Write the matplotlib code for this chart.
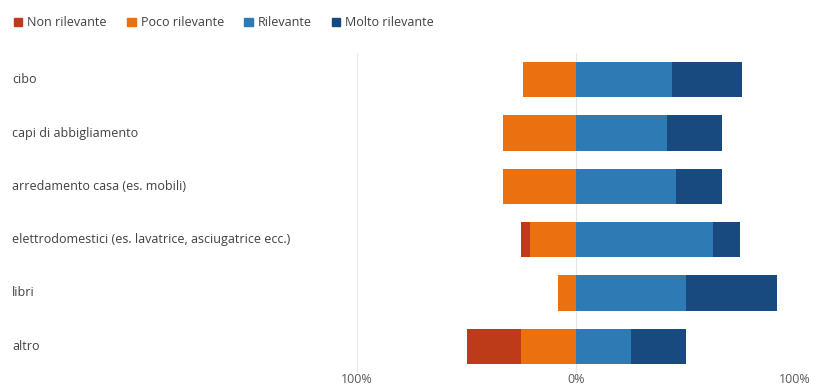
import matplotlib.pyplot as plt
import matplotlib.transforms as mtransforms
from matplotlib.patches import Patch
import numpy as np

plt.rcParams['font.family'] = ['Open Sans', 'DejaVu Sans']

# Survey answers per category, in percent
categories = ['cibo', 'capi di abbigliamento', 'arredamento casa (es. mobili)',
              'elettrodomestici (es. lavatrice, asciugatrice ecc.)', 'libri', 'altro']
non_rilevante = [0, 0, 0, 4.2, 0, 25]
poco_rilevante = [24, 33.3, 33.3, 20.8, 8.3, 25]
rilevante = [44, 41.7, 45.8, 62.5, 50, 25]
molto_rilevante = [32, 25, 20.8, 12.5, 41.7, 25]

series_names = ['Non rilevante', 'Poco rilevante', 'Rilevante', 'Molto rilevante']
colors = ['#BE3B1A', '#EB7110', '#2E7AB4', '#184A80']
xticks = [-100, 0, 100]
xtick_labels = ['100%', '0%', '100%']

fig = plt.figure(figsize=(8.14, 3.88), dpi=100)
ax = fig.add_axes([357 / 814, 1 - 373 / 388, 438 / 814, 320 / 388])

y = np.arange(len(categories))
h = 0.66
nr = np.array(non_rilevante)
pr = np.array(poco_rilevante)
ri = np.array(rilevante)
mr = np.array(molto_rilevante)

# negative side: "poco" next to zero, "non" further out
ax.barh(y, -pr, height=h, color=colors[1], zorder=3)
ax.barh(y, -nr, left=-pr, height=h, color=colors[0], zorder=3)
# positive side
ax.barh(y, ri, height=h, color=colors[2], zorder=3)
ax.barh(y, mr, left=ri, height=h, color=colors[3], zorder=3)

ax.set_xlim(-100, 100)
ax.set_ylim(len(categories) - 0.5, -0.5)
ax.set_xticks(xticks)
ax.set_xticklabels(xtick_labels, color='#595959', fontsize=9)
ax.set_yticks([])
ax.tick_params(axis='x', length=0, pad=0)
for s in ax.spines.values():
    s.set_visible(False)
for xv in xticks:
    ax.axvline(xv, color='#E6E6E6', lw=0.8, zorder=1)

# category labels aligned at the left edge of the figure
trans = mtransforms.blended_transform_factory(fig.transFigure, ax.transData)
for yi, cat in zip(y, categories):
    ax.text(12 / 814, yi, cat, transform=trans, ha='left', va='center',
            fontsize=9, color='#404040')

handles = [Patch(color=c) for c in colors]
fig.legend(handles, series_names, loc='upper left', bbox_to_anchor=(0.003, 0.987),
           ncol=4, frameon=False, fontsize=9, handlelength=0.7, handleheight=0.7,
           handletextpad=0.4, columnspacing=1.6, labelcolor='#404040')

fig.savefig('out.png', dpi=100)
